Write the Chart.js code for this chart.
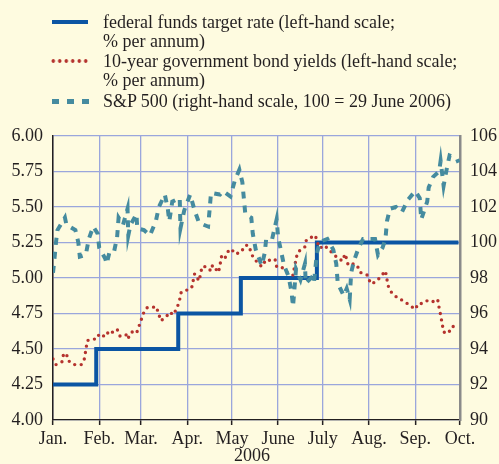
<!DOCTYPE html>
<html>
<head>
<meta charset="utf-8">
<script src="https://cdn.jsdelivr.net/npm/chart.js@4.4.1/dist/chart.umd.min.js"></script>
<style>
html, body { margin: 0; padding: 0; background: #fefbe0; }
#wrap { position: relative; width: 499px; height: 464px; overflow: hidden; }
#chart { position: absolute; left: 0; top: 0; }
.item { position: absolute; left: 103px; font-family: "Liberation Serif", serif; font-size: 18px; line-height: 18.5px; color: #231f20; white-space: nowrap; }
.key { position: absolute; }
#year { position: absolute; left: 222px; width: 60px; top: 446px; text-align: center; font-family: "Liberation Serif", serif; font-size: 18px; line-height: 18px; color: #231f20; }
</style>
</head>
<body>
<div id="wrap">
  <canvas id="chart" width="499" height="464"></canvas>
  <div class="key" style="left:52px;top:20px;width:36px;height:4px;background:#0b55a3;"></div>
  <div class="item" style="top:13px;">federal funds target rate (left-hand scale;<br>% per annum)</div>
  <div class="key" style="left:50px;top:59px;width:39px;height:4px;background-image:radial-gradient(circle at center,#b5332e 1.5px,rgba(0,0,0,0) 2.1px);background-size:6.5px 4px;background-repeat:repeat-x;"></div>
  <div class="item" style="top:52px;">10-year government bond yields (left-hand scale;<br>% per annum)</div>
  <div class="key" style="left:52px;top:99px;width:37px;height:4.5px;background-image:linear-gradient(to right,#458b9f 0,#458b9f 7px,rgba(0,0,0,0) 7px,rgba(0,0,0,0) 15px);background-size:15px 100%;"></div>
  <div class="item" style="top:92px;">S&amp;P 500 (right-hand scale, 100 = 29 June 2006)</div>
  <div id="year">2006</div>
</div>
<script>
// x values are days counted from 1 January 2006
const monthDays = [0, 31, 59, 90, 120, 151, 181, 212, 243, 273];
const monthLabels = ['Jan.', 'Feb.', 'Mar.', 'Apr.', 'May', 'June', 'July', 'Aug.', 'Sep.', 'Oct.'];

// federal funds target rate, % (step changes)
const fedDays = [0, 29, 84, 126, 177, 272];
const fedRate = [4.25, 4.50, 4.75, 5.00, 5.25, 5.25];

// 10-year government bond yields, %
const bondDays = [0, 2, 6, 7, 9, 10, 14, 16, 19, 21, 22, 23, 28, 30, 33, 36, 38, 40, 43, 45, 49, 50, 53, 56, 57, 59, 61, 63, 66, 69, 71, 72, 74, 77, 79, 80, 83, 85, 86, 91, 93, 94, 95, 98, 99, 100, 103, 106, 107, 111, 112, 113, 114, 116, 118, 120, 122, 126, 129, 131, 133, 134, 137, 140, 143, 147, 149, 150, 153, 157, 161, 162, 163, 164, 169, 170, 174, 176, 177, 179, 182, 187, 190, 194, 196, 198, 202, 204, 206, 211, 213, 216, 219, 223, 224, 225, 227, 231, 235, 239, 243, 245, 248, 251, 254, 258, 259, 260, 261, 262, 265, 268, 272];
const bondYield = [4.43, 4.39, 4.41, 4.46, 4.47, 4.42, 4.39, 4.39, 4.39, 4.43, 4.49, 4.56, 4.57, 4.60, 4.58, 4.62, 4.60, 4.62, 4.64, 4.59, 4.60, 4.57, 4.62, 4.61, 4.64, 4.70, 4.76, 4.79, 4.79, 4.80, 4.75, 4.70, 4.71, 4.74, 4.76, 4.74, 4.78, 4.85, 4.90, 4.92, 4.93, 4.98, 5.03, 4.98, 5.03, 5.08, 5.08, 5.05, 5.09, 5.04, 5.09, 5.15, 5.13, 5.15, 5.20, 5.20, 5.17, 5.18, 5.23, 5.23, 5.18, 5.15, 5.11, 5.08, 5.13, 5.12, 5.13, 5.08, 5.08, 5.04, 5.02, 5.08, 5.13, 5.18, 5.22, 5.27, 5.29, 5.30, 5.26, 5.21, 5.23, 5.18, 5.15, 5.12, 5.17, 5.09, 5.10, 5.09, 5.04, 5.02, 4.96, 4.97, 5.00, 5.05, 4.99, 4.94, 4.90, 4.86, 4.84, 4.81, 4.78, 4.82, 4.82, 4.84, 4.83, 4.85, 4.79, 4.74, 4.68, 4.62, 4.61, 4.66, 4.65];

// S&P 500, index 100 = 29 June 2006
const spDays = [0, 1, 2, 3, 8, 9, 15, 17, 18, 22, 24, 27, 30, 31, 35, 36, 38, 41, 43, 44, 47, 50, 50.5, 52, 56, 56.5, 61, 65, 69, 71, 75, 77, 78, 80, 85, 85.5, 88, 92, 95, 98, 104, 105, 106, 112, 114, 119, 120, 122, 125, 127, 128, 129, 133, 134, 136, 140, 142, 143, 147, 150, 151, 153, 155, 158, 160, 161, 163, 166, 169, 169.5, 173, 175, 177, 179, 181, 184, 188, 190, 191, 195, 197, 199, 200, 202, 205, 208, 211, 216, 218, 221, 223, 224, 226, 230, 234, 238, 243, 246, 247, 251, 252, 255, 259, 260, 262, 264, 266, 271, 272];
const spIndex = [98.3, 99.1, 100.0, 100.7, 101.4, 101.0, 100.7, 100.0, 99.2, 99.3, 100.2, 100.9, 100.5, 99.7, 99.1, 98.8, 99.5, 99.5, 100.3, 101.4, 101.0, 101.9, 100.4, 101.0, 101.6, 100.8, 100.7, 100.4, 101.2, 102.0, 102.7, 101.9, 101.2, 102.3, 102.5, 100.8, 101.8, 102.7, 101.8, 101.1, 100.9, 101.8, 102.8, 102.7, 102.9, 102.6, 102.9, 103.5, 104.1, 103.4, 102.5, 101.6, 101.4, 100.5, 99.6, 98.7, 99.4, 100.2, 100.2, 101.3, 100.3, 99.5, 98.7, 98.1, 97.2, 96.4, 98.5, 97.9, 98.8, 97.7, 98.0, 97.7, 99.4, 100.0, 100.1, 100.2, 99.6, 98.8, 97.7, 97.0, 97.4, 96.8, 98.3, 99.0, 99.7, 100.2, 100.2, 100.2, 99.3, 99.7, 100.2, 101.2, 101.9, 102.0, 101.7, 102.4, 102.9, 102.5, 101.3, 102.3, 103.1, 103.7, 104.0, 104.6, 103.2, 104.1, 104.9, 104.7, 104.5];

const ink = '#231f20';
const gridBlue = '#9aa6dc';
const tickFont = { family: 'Liberation Serif', size: 18 };

const pairs = (xs, ys) => xs.map((x, i) => ({ x: x, y: ys[i] }));

const ctx = document.getElementById('chart');
const chart = new Chart(ctx, {
    type: 'line',
    data: {
        datasets: [{
            label: 'S&P 500',
            data: pairs(spDays, spIndex),
            yAxisID: 'y1',
            borderColor: '#458b9f',
            borderWidth: 4,
            borderDash: [7, 7],
            pointRadius: 0,
            tension: 0
        }, {
            label: '10-year government bond yields',
            data: pairs(bondDays, bondYield),
            yAxisID: 'y',
            borderColor: '#b5332e',
            borderWidth: 3.4,
            borderDash: [0, 6.5],
            borderCapStyle: 'round',
            pointRadius: 0,
            tension: 0
        }, {
            label: 'federal funds target rate',
            data: pairs(fedDays, fedRate),
            yAxisID: 'y',
            borderColor: '#0b55a3',
            borderWidth: 4,
            stepped: true,
            pointRadius: 0
        }]
    },
    options: {
        responsive: false,
        animation: false,
        layout: { padding: { top: 136, left: 0, right: 0, bottom: 0 } },
        plugins: { legend: { display: false }, tooltip: { enabled: false } },
        scales: {
            x: {
                type: 'linear',
                min: 0,
                max: 273,
                afterBuildTicks: s => { s.ticks = monthDays.map(v => ({ value: v })); },
                afterFit: s => { s.height = 44; },
                ticks: {
                    autoSkip: false,
                    maxRotation: 0,
                    padding: 3,
                    color: ink,
                    font: tickFont,
                    callback: v => monthLabels[monthDays.indexOf(v)]
                },
                grid: { color: gridBlue, lineWidth: 1.3, tickLength: 5, tickColor: ink, tickWidth: 1.5 },
                border: { display: true, color: ink, width: 1.2 }
            },
            y: {
                position: 'left',
                min: 4,
                max: 6,
                afterFit: s => { s.width = 53; },
                ticks: { stepSize: 0.25, padding: 10, color: ink, font: tickFont, callback: v => v.toFixed(2) },
                grid: { color: gridBlue, lineWidth: 1.3, drawTicks: false },
                border: { color: ink, width: 1.5 }
            },
            y1: {
                position: 'right',
                min: 90,
                max: 106,
                afterFit: s => { s.width = 39; },
                ticks: { stepSize: 2, padding: 10, color: ink, font: tickFont },
                grid: { drawOnChartArea: false, drawTicks: false },
                border: { color: '#8a8a8a', width: 2.5 }
            }
        }
    }
});
</script>
</body>
</html>
